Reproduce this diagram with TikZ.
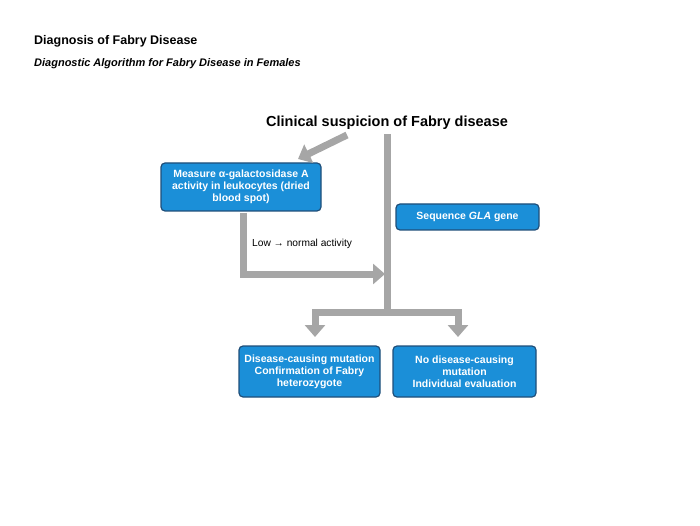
\documentclass[tikz,border=0pt]{standalone}
\usepackage{fontspec}
\setmainfont{Liberation Sans}
\usetikzlibrary{arrows.meta}
\definecolor{boxfill}{HTML}{1B8FD8}
\definecolor{boxline}{HTML}{1F4E79}
\definecolor{flow}{HTML}{A6A6A6}
\begin{document}
\begin{tikzpicture}[x=1pt,y=-1pt,
  bx/.style={draw=boxline,line width=1.2pt,fill=boxfill,rounded corners=4pt,text=white,font=\bfseries\fontsize{10.5}{12}\selectfont,align=center,inner sep=0pt},
  fl/.style={draw=flow,line width=7pt,-{Triangle[width=20pt,length=12pt]}}]
\useasboundingbox (0,0) rectangle (700,526);
\node[anchor=west,inner sep=0pt,font=\bfseries\fontsize{12.5}{15}\selectfont] (t1) at (34,41) {Diagnosis of Fabry Disease};
\node[anchor=west,inner sep=0pt,font=\bfseries\itshape\fontsize{11}{13}\selectfont] (t2) at (34,64) {Diagnostic Algorithm for Fabry Disease in Females};
\node[font=\bfseries\fontsize{14.5}{17}\selectfont] (cs) at (387,123) {Clinical suspicion of Fabry disease};
\node[bx,minimum width=160pt,minimum height=48pt] (m) at (241,187) {Measure α-galactosidase A\\activity in leukocytes (dried\\blood spot)};
\node[bx,minimum width=143pt,minimum height=26pt] (s) at (467.5,217) {Sequence \textit{GLA} gene};
\node[bx,minimum width=141pt,minimum height=51pt] (d) at (309.5,371.5) {Disease-causing mutation\\Confirmation of Fabry\\heterozygote};
\node[bx,minimum width=143pt,minimum height=51pt] (n) at (464.5,371.5) {No disease-causing\\mutation\\Individual evaluation};
\node[anchor=west,inner sep=0pt,font=\fontsize{10.2}{12}\selectfont] (lab) at (252,244) {Low → normal activity};
\coordinate (j) at (387,312);
\draw[fl] (347,135) -- (298,159);
\draw[draw=flow,line width=7pt] (387,134) -- (j);
\draw[draw=flow,line width=7pt] (312,312) -- (462,312);
\draw[fl] (315,309) -- (315,337);
\draw[fl] (458,309) -- (458,337);
\draw[fl] (243,213) -- (243,274) -- (385,274);
\end{tikzpicture}
\end{document}
